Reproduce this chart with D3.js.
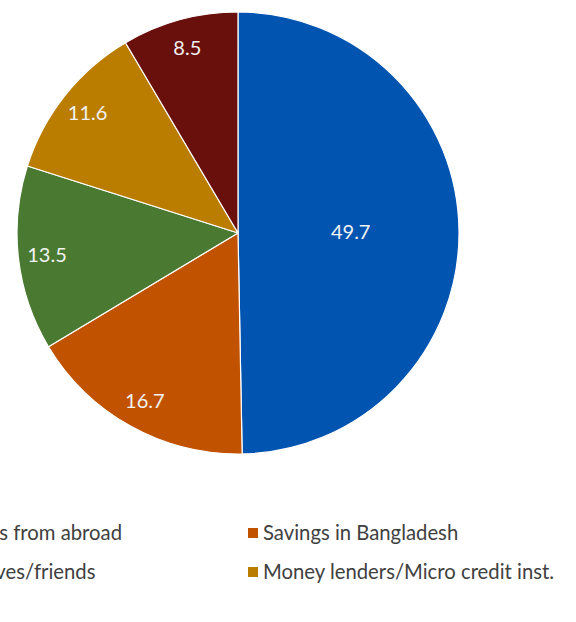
<!DOCTYPE html>
<html>
<head>
<meta charset="utf-8">
<script src="https://cdn.jsdelivr.net/npm/d3@7"></script>
<style>
  html, body { margin: 0; padding: 0; background: #ffffff; }
  svg { display: block; }
  text { font-family: Lato, "Open Sans", sans-serif; }
</style>
</head>
<body>
<svg id="chart" width="576" height="622"></svg>
<script>
// Sources of funds, share in percent
const categories = [
  "Remittances from abroad",
  "Savings in Bangladesh",
  "From relatives/friends",
  "Money lenders/Micro credit inst.",
  "Others"
];
const shares = [49.7, 16.7, 13.5, 11.6, 8.5];
const colors = ["#0254B1", "#C15200", "#4A7A31", "#BA7D00", "#6A100C"];

const svg = d3.select("#chart");

const cx = 238, cy = 233, radius = 221;

const data = categories.map((c, i) => ({ name: c, value: shares[i], color: colors[i] }));

const pie = d3.pie().value(d => d.value).sort(null);
const arcs = pie(data);

const arc = d3.arc().innerRadius(0).outerRadius(radius);
// Data labels: wide slice labels sit nearer the middle, narrow ones near the rim
const labelArcInner = d3.arc().innerRadius(radius * 0.51).outerRadius(radius * 0.51);
const labelArcOuter = d3.arc().innerRadius(radius * 0.87).outerRadius(radius * 0.87);

const g = svg.append("g").attr("transform", `translate(${cx},${cy})`);

g.selectAll("path.slice")
  .data(arcs)
  .join("path")
  .attr("class", "slice")
  .attr("d", arc)
  .attr("fill", d => d.data.color)
  .attr("stroke", "#ffffff")
  .attr("stroke-width", 1.2)
  .attr("stroke-linejoin", "round");

g.selectAll("text.value")
  .data(arcs)
  .join("text")
  .attr("class", "value")
  .attr("transform", d => {
    const a = (d.endAngle - d.startAngle) > Math.PI / 2 ? labelArcInner : labelArcOuter;
    const [x, y] = a.centroid(d);
    return `translate(${x},${y})`;
  })
  .attr("text-anchor", "middle")
  .attr("dy", "0.35em")
  .attr("fill", "#F2F2F2")
  .attr("font-size", 20)
  .text(d => d3.format(".1f")(d.data.value));

// Legend: two columns, row-major order
const legendItems = data.slice(0, 4);
const rowY = [533, 572];
const rightMarkerX = 248;
const markerSize = 10;
const textGap = 15;
const fontSize = 20.3;

const legend = svg.append("g").attr("class", "legend");

// measure the first label to place the left column so both columns share one pitch
const probe = legend.append("text").attr("font-size", fontSize).text(legendItems[0].name);
const w0 = probe.node().getComputedTextLength();
probe.remove();
const leftTextEnd = 122;
const leftMarkerX = leftTextEnd - w0 - textGap;
const colX = [leftMarkerX, rightMarkerX];

const item = legend.selectAll("g.item")
  .data(legendItems)
  .join("g")
  .attr("class", "item")
  .attr("transform", (d, i) => `translate(${colX[i % 2]},${rowY[Math.floor(i / 2)]})`);

item.append("rect")
  .attr("x", 0)
  .attr("y", -markerSize / 2)
  .attr("width", markerSize)
  .attr("height", markerSize)
  .attr("fill", d => d.color);

item.append("text")
  .attr("x", textGap)
  .attr("dy", "0.35em")
  .attr("font-size", fontSize)
  .attr("fill", "#404040")
  .text(d => d.name);
</script>
</body>
</html>
